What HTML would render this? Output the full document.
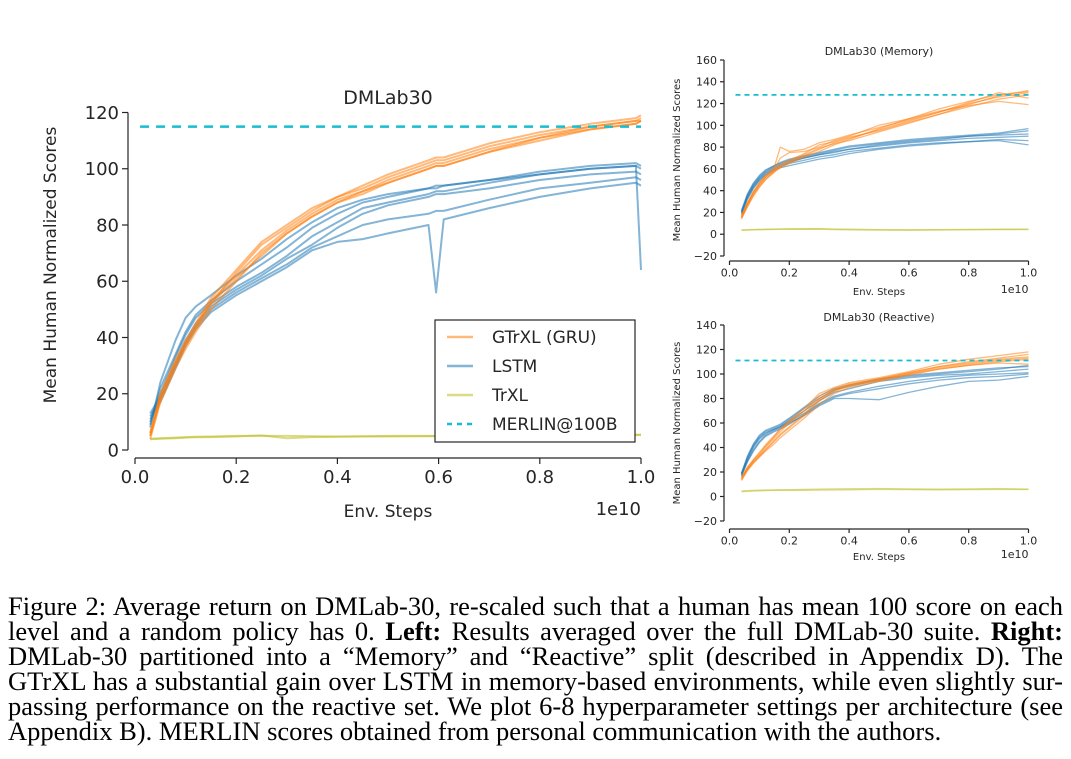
<!DOCTYPE html>
<html><head><meta charset="utf-8">
<style>
body{margin:0;background:#fff;width:1071px;height:759px;overflow:hidden;position:relative}
svg{position:absolute;left:0;top:0}
.cap{position:absolute;left:8px;width:1055px;font-family:"Liberation Serif",serif;font-size:26.5px;color:#000;text-align:justify;text-align-last:justify;white-space:nowrap;line-height:25px}
.last{text-align-last:left}
</style></head><body>
<svg id="chart" width="1071" height="580" xmlns="http://www.w3.org/2000/svg" font-family="DejaVu Sans, Liberation Sans, sans-serif"></svg>
<div class="cap" style="top:594px">Figure 2: Average return on DMLab-30, re-scaled such that a human has mean 100 score on each</div>
<div class="cap" style="top:619px">level and a random policy has 0. <b>Left:</b> Results averaged over the full DMLab-30 suite. <b>Right:</b></div>
<div class="cap" style="top:644px">DMLab-30 partitioned into a “Memory” and “Reactive” split (described in Appendix D). The</div>
<div class="cap" style="top:669px">GTrXL has a substantial gain over LSTM in memory-based environments, while even slightly sur-</div>
<div class="cap" style="top:694px">passing performance on the reactive set. We plot 6-8 hyperparameter settings per architecture (see</div>
<div class="cap last" style="top:719px">Appendix B). MERLIN scores obtained from personal communication with the authors.</div>
<script>
// ---- Main chart data ----
const mainSteps = [0.03,0.05,0.08,0.1,0.12,0.15,0.2,0.25,0.3,0.35,0.4,0.45,0.5,0.58,0.595,0.61,0.7,0.8,0.9,0.99,1.0];
const mainGtrxl = [
 [5,18,30,37,43,52,63,73,79,85,90,93,97,102,103,103,108,112,115,117,118],
 [6,19,31,38,44,53,62,71,78,84,89,92,96,101,102,102,107,111,114,116,117],
 [4,17,29,36,42,50,60,70,77,83,88,92,95,100,101,101,106,111,115,117,117],
 [5,18,31,38,45,54,64,74,80,86,90,94,98,103,104,104,109,113,116,118,119],
 [6,20,32,39,44,52,61,69,77,83,88,91,95,100,101,101,106,110,114,116,117]
];
const mainLstm = [
 [8,24,39,47,51,55,62,68,75,81,86,89,91,93,94,94,96,98,100,101,64],
 [10,22,34,42,48,53,60,66,72,79,84,88,90,93,93,94,96,99,101,102,101],
 [12,18,30,38,44,50,56,61,66,72,76,80,82,84,85,85,89,93,95,97,96],
 [11,17,29,37,43,49,55,60,65,71,74,75,77,80,56,82,86,90,93,95,94],
 [9,20,33,41,47,52,58,63,69,76,81,86,88,91,92,92,95,98,100,101,100],
 [13,19,31,39,45,51,57,62,68,73,79,84,87,90,91,91,93,96,98,99,98]
];
const mainTrxl = [
 [4,4.2,4.4,4.6,4.7,4.8,5,5,5,4.9,4.8,4.9,5,5,5,5.1,5.2,5.2,5.3,5.3,5.3],
 [3.8,4,4.2,4.4,4.5,4.6,4.8,5.2,4.2,4.6,4.7,4.8,4.8,4.9,4.9,5,5,5.1,5.2,5.4,5.5]
];
const mainMerlin = 115;
const mainYTicks = [0,20,40,60,80,100,120];
const mainXTicks = ["0.0","0.2","0.4","0.6","0.8","1.0"];

// ---- Memory chart data ----
const sideSteps = [0.04,0.06,0.08,0.1,0.12,0.15,0.17,0.2,0.25,0.3,0.35,0.4,0.5,0.6,0.7,0.8,0.9,1.0];
const memGtrxl = [
 [16,28,38,46,52,58,62,66,72,78,84,88,96,104,112,120,126,130],
 [15,27,37,45,52,60,70,75,76,80,86,90,100,106,113,118,122,119],
 [17,29,39,47,53,59,64,68,74,82,85,89,95,103,110,117,124,128],
 [15,26,36,44,50,57,61,65,71,76,82,87,97,106,115,122,128,131],
 [16,28,39,47,54,62,80,76,78,84,87,91,98,105,112,121,130,125],
 [14,25,35,43,50,58,63,67,73,79,83,86,94,102,110,119,127,132]
];
const memLstm = [
 [20,35,45,52,57,62,64,67,70,73,76,78,81,84,86,88,89,90],
 [22,37,47,54,59,63,65,68,71,74,77,80,83,86,88,90,92,95],
 [19,33,43,50,55,60,62,65,68,71,73,76,79,82,84,85,86,82],
 [21,36,46,53,58,63,66,69,72,75,78,81,84,87,89,91,93,97],
 [18,32,42,49,54,59,61,63,66,69,71,74,78,81,83,85,87,86],
 [20,34,44,51,56,61,63,66,70,73,75,78,82,85,87,90,91,92]
];
const memTrxl = [
 [3.5,3.8,4,4,4.2,4.3,4.4,4.5,4.5,4.6,4.2,4,3.8,3.7,3.9,4,4.2,4.3],
 [4,4.2,4.3,4.5,4.6,4.8,4.9,5,5.1,5.2,4.8,4.6,4.2,4.1,4.2,4.4,4.6,4.7]
];
const memMerlin = 128;
const memYTicks = [-20,0,20,40,60,80,100,120,140,160];

// ---- Reactive chart data ----
const reaGtrxl = [
 [14,22,28,33,38,45,50,56,66,78,86,90,95,100,105,108,111,113],
 [15,23,29,34,40,48,53,60,70,82,88,92,96,101,106,110,113,116],
 [13,21,27,32,37,43,48,54,64,75,84,89,94,99,104,107,110,112],
 [16,24,30,35,41,49,55,62,72,84,89,93,97,102,108,112,115,118],
 [14,22,28,33,38,46,51,57,67,79,86,91,95,100,104,107,109,108],
 [15,23,30,36,42,50,55,61,70,80,87,91,96,101,106,109,112,114]
];
const reaLstm = [
 [18,30,40,47,51,55,57,62,70,78,85,88,94,97,99,100,102,104],
 [19,32,42,49,53,56,58,63,72,80,87,90,95,98,100,102,104,107],
 [17,29,38,45,50,54,56,60,66,74,80,80,79,85,90,94,95,98],
 [18,31,41,48,52,55,57,61,68,76,82,85,90,94,97,99,100,101],
 [17,28,37,44,49,53,55,59,67,75,81,84,88,92,95,97,98,100],
 [19,33,43,50,54,57,59,64,73,82,88,91,96,99,101,103,105,106]
];
const reaTrxl = [
 [4,4.2,4.4,4.6,4.8,5,5,5,5.1,5.2,5.3,5.4,5.8,5.6,5.5,5.6,5.7,5.7],
 [4.5,4.8,5,5.2,5.3,5.4,5.5,5.6,5.8,6,6.2,6.3,6.5,6.2,6,6.2,6.5,6]
];
const reaMerlin = 111;
const reaYTicks = [-20,0,20,40,60,80,100,120,140];

const NS = "http://www.w3.org/2000/svg";
const svg = document.getElementById('chart');
function mk(tag, attrs, parent){
  const e = document.createElementNS(NS, tag);
  for (const k in attrs) e.setAttribute(k, attrs[k]);
  (parent||svg).appendChild(e);
  return e;
}
const C = {g:'#ff7f0e', l:'#1f77b4', t:'#bcbd22', m:'#17becf', ax:'#262626'};

function drawChart(cfg){
  const g = mk('g', {});
  
  
  const X = v => cfg.x0 + v*(cfg.x1-cfg.x0);
  const Y = v => cfg.yb - (v-cfg.ymin)/(cfg.ymax-cfg.ymin)*(cfg.yb-cfg.yt);
  const ls = mk('line', {x1:cfg.sx, x2:cfg.sx, y1:Y(cfg.ymax), y2:Y(cfg.ymin), stroke:C.ax, 'stroke-width':1.2}, g);
  
  
  const bs = mk('line', {x1:X(0), x2:X(1), y1:cfg.sy, y2:cfg.sy, stroke:C.ax, 'stroke-width':1.2}, g);
  
  
  cfg.yticks.forEach(t => {
    mk('line', {x1:cfg.sx-cfg.tl, x2:cfg.sx, y1:Y(t), y2:Y(t), stroke:C.ax, 'stroke-width':1.2}, g);
    const tx = mk('text', {x:cfg.sx-cfg.tl-3, y:Y(t)+cfg.fs*0.36, 'text-anchor':'end', 'font-size':cfg.fs, fill:C.ax}, g);
    tx.textContent = t < 0 ? '\u2212' + Math.abs(t) : t;
    
    
  });
  mainXTicks.forEach(t => {
    const v = parseFloat(t);
    mk('line', {x1:X(v), x2:X(v), y1:cfg.sy, y2:cfg.sy+cfg.tl, stroke:C.ax, 'stroke-width':1.2}, g);
    const tx = mk('text', {x:X(v), y:cfg.sy+cfg.tl+cfg.fs*1.05, 'text-anchor':'middle', 'font-size':cfg.fs, fill:C.ax}, g);
    tx.textContent = t;
    
    
  });
  const path = (steps, vals) => vals.map((v,i)=>(i?'L':'M')+X(steps[i]).toFixed(1)+','+Y(v).toFixed(1)).join('');
  const series = [[cfg.trxl,C.t,'trxl-run'],[cfg.lstm,C.l,'lstm-run'],[cfg.gtrxl,C.g,'gtrxl-run']];
  series.forEach(([runs,col,nm]) => runs.forEach(r => {
    const p = mk('path', {d:path(cfg.steps, r), fill:'none', stroke:col, 'stroke-width':cfg.lw, 'stroke-opacity':0.55, 'stroke-linejoin':'round'}, g);
    
    
  }));
  const m = mk('line', {x1:X(cfg.mStart), x2:X(1), y1:Y(cfg.merlin), y2:Y(cfg.merlin), stroke:C.m, 'stroke-width':cfg.lw+0.5, 'stroke-dasharray':cfg.dash}, g);
  
  
  const ti = mk('text', {x:(X(0)+X(1))/2, y:cfg.titleY, 'text-anchor':'middle', 'font-size':cfg.tfs, fill:C.ax}, g);
  ti.textContent = cfg.title;
  
  
  const xl = mk('text', {x:(X(0)+X(1))/2, y:cfg.xlY, 'text-anchor':'middle', 'font-size':cfg.lfs, fill:C.ax}, g);
  xl.textContent = 'Env. Steps';
  
  
  const ex = mk('text', {x:X(1), y:cfg.xlY-2, 'text-anchor':'end', 'font-size':cfg.fs, fill:C.ax}, g);
  ex.textContent = '1e10';
  
  
  const yl = mk('text', {x:0, y:0, 'text-anchor':'middle', 'font-size':cfg.lfs, fill:C.ax, transform:`translate(${cfg.ylX},${cfg.ylY}) rotate(-90)`}, g);
  yl.textContent = 'Mean Human Normalized Scores';
  
  
}

drawChart({name:'main-chart', x0:135, x1:641, yb:450, yt:112.5, ymin:0, ymax:120, sx:128, sy:458, tl:6, fs:18, tfs:19, lfs:17,
  yticks:mainYTicks, steps:mainSteps, gtrxl:mainGtrxl, lstm:mainLstm, trxl:mainTrxl, merlin:mainMerlin, mStart:0.01, dash:'9,7', lw:2,
  title:'DMLab30', titleY:104, xlY:517, ylX:56, ylY:265});
drawChart({name:'memory-chart', x0:729.5, x1:1028.5, yb:256, yt:60, ymin:-20, ymax:160, sx:724, sy:261, tl:4, fs:11, tfs:11, lfs:10,
  yticks:memYTicks, steps:sideSteps, gtrxl:memGtrxl, lstm:memLstm, trxl:memTrxl, merlin:memMerlin, mStart:0.02, dash:'5,4', lw:1.3,
  title:'DMLab30 (Memory)', titleY:55, xlY:295, ylX:680, ylY:160});
drawChart({name:'reactive-chart', x0:729.5, x1:1028.5, yb:521, yt:325, ymin:-20, ymax:140, sx:724, sy:529, tl:4, fs:11, tfs:11, lfs:10,
  yticks:reaYTicks, steps:sideSteps, gtrxl:reaGtrxl, lstm:reaLstm, trxl:reaTrxl, merlin:reaMerlin, mStart:0.02, dash:'5,4', lw:1.3,
  title:'DMLab30 (Reactive)', titleY:321, xlY:560, ylX:680, ylY:423});

// legend
const lg = mk('g', {});


mk('rect', {x:435, y:320, width:200, height:122, fill:'#fff', stroke:C.ax, 'stroke-width':1.2}, lg);
const legItems = [['GTrXL (GRU)',C.g,null],['LSTM',C.l,null],['TrXL',C.t,null],['MERLIN@100B',C.m,'5,5']];
legItems.forEach((it,i) => {
  const y = 337 + i*29;
  const a = {x1:447, x2:473, y1:y, y2:y, stroke:it[1], 'stroke-width':2.5, 'stroke-opacity':it[2]?1:0.55};
  if (it[2]) a['stroke-dasharray'] = it[2];
  const ln = mk('line', a, lg);
  
  
  const t = mk('text', {x:492, y:y+6, 'font-size':17, fill:C.ax}, lg);
  t.textContent = it[0];
  
  
});
</script>
</body></html>
